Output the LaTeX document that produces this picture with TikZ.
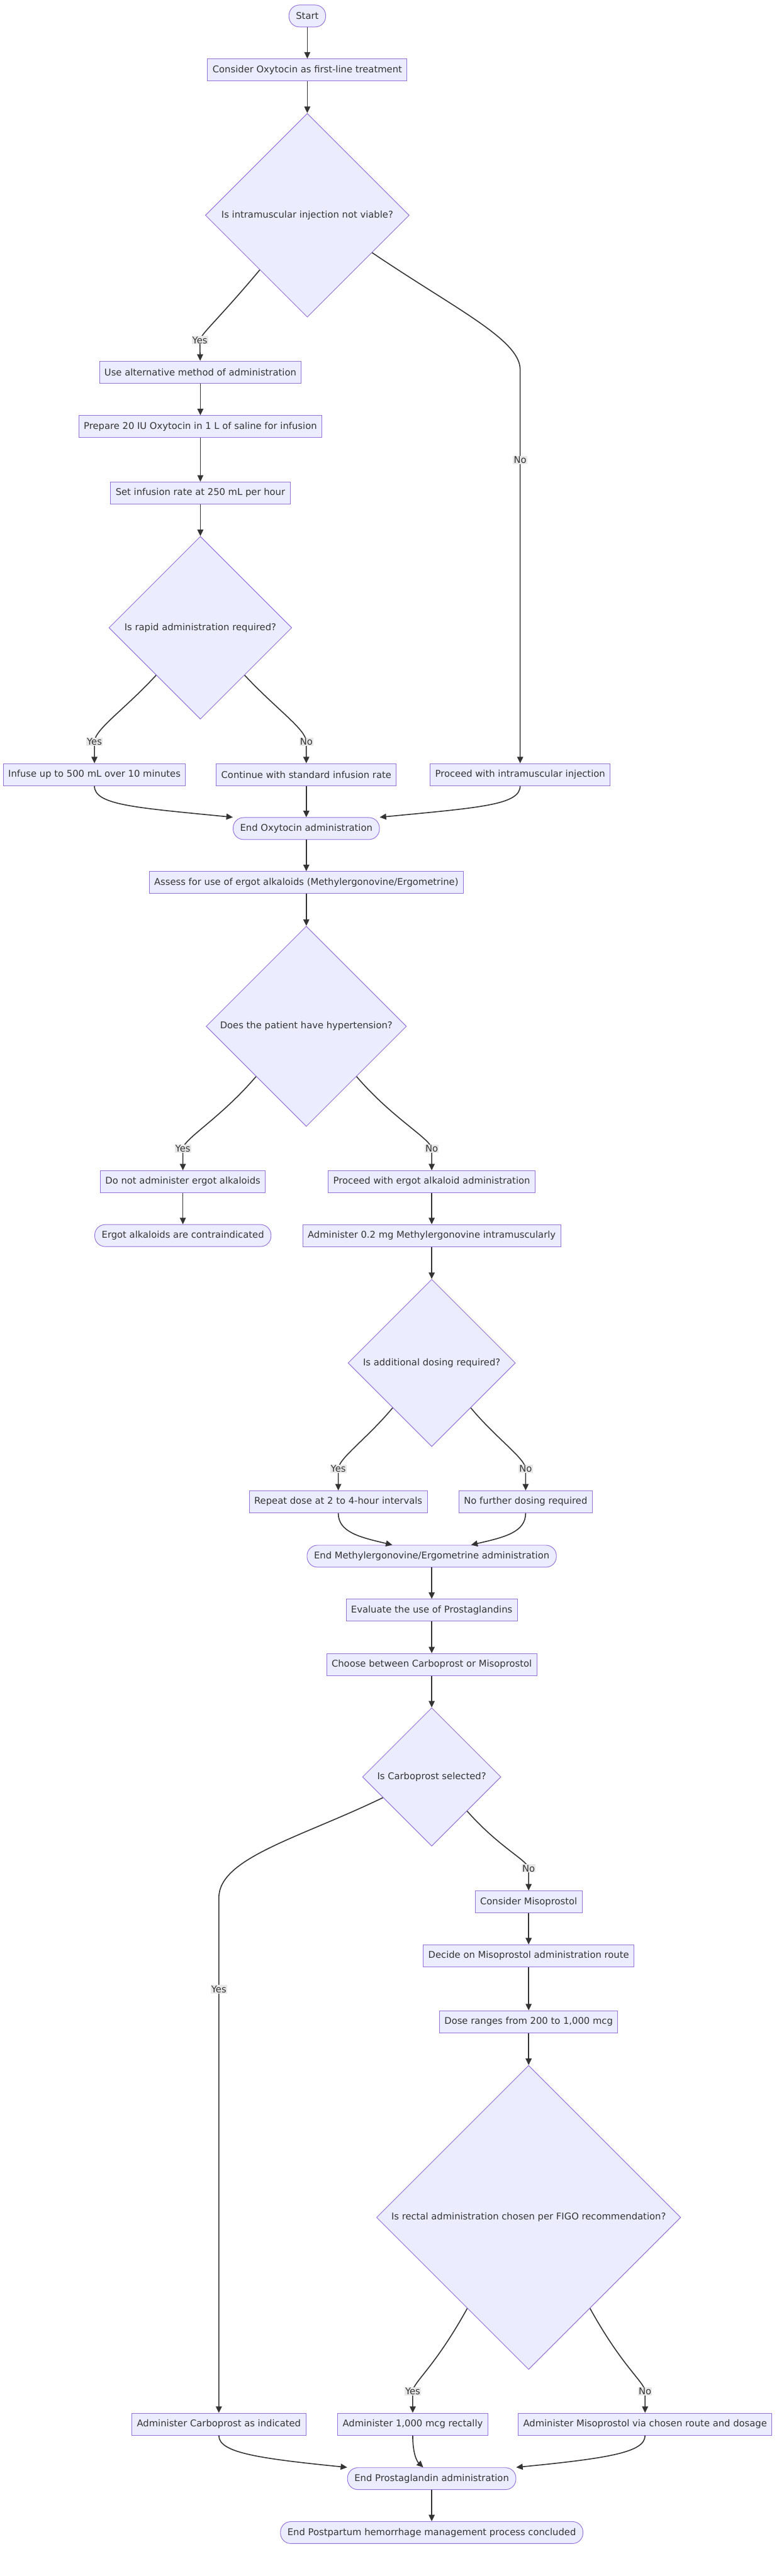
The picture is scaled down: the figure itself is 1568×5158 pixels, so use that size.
\documentclass[tikz,border=0pt]{standalone}
\usepackage{fontspec}
\setmainfont{DejaVu Sans}
\usetikzlibrary{shapes.geometric,arrows.meta}
\definecolor{boxfill}{HTML}{ECECFF}
\definecolor{boxline}{HTML}{9370DB}
\definecolor{inkgray}{HTML}{333333}
\definecolor{tagfill}{HTML}{E8E8E8}

\begin{document}
\begin{tikzpicture}[x=1pt, y=-1pt,
		every node/.style={font=\fontsize{18.6}{22}\selectfont, text=inkgray},
		proc/.style={draw=boxline, fill=boxfill, line width=1.2pt, rectangle, minimum height=44pt, inner xsep=10pt, inner ysep=0pt},
		term/.style={proc, rounded corners=21pt, inner xsep=14pt},
		decision/.style={draw=boxline, fill=boxfill, line width=1.2pt, diamond, aspect=1, inner sep=0pt},
		flow/.style={draw=inkgray, line width=2pt, -{Triangle[length=13pt,width=12pt]}},
		tag/.style={fill=tagfill, inner sep=1.5pt}]
			\fill[white] (0,0) rectangle (1568,5158);
			\useasboundingbox (0,0) rectangle (1568,5158);

			\node[term] (start) at (615,32) {Start};
			\node[proc] (firstline) at (615,140) {Consider Oxytocin as first-line treatment};
			\node[decision, minimum size=408pt, label=center:{Is intramuscular injection not viable?}] (imq) at (615,431) {};
			\node[proc] (altmethod) at (401,745) {Use alternative method of administration};
			\node[proc] (prepare) at (401,854) {Prepare 20 IU Oxytocin in 1 L of saline for infusion};
			\node[proc] (rate) at (401,987) {Set infusion rate at 250 mL per hour};
			\node[decision, minimum size=366pt, label=center:{Is rapid administration required?}] (rapidq) at (401,1257) {};
			\node[proc] (infuse) at (189,1551) {Infuse up to 500 mL over 10 minutes};
			\node[proc] (standard) at (613,1551) {Continue with standard infusion rate};
			\node[proc] (imroute) at (1041,1551) {Proceed with intramuscular injection};
			\node[term] (endoxy) at (613,1659) {End Oxytocin administration};
			\node[proc] (assess) at (613,1767) {Assess for use of ergot alkaloids (Methylergonovine/Ergometrine)};
			\node[decision, minimum size=401pt, label=center:{Does the patient have hypertension?}] (htq) at (613,2055) {};
			\node[proc] (noergot) at (366,2366) {Do not administer ergot alkaloids};
			\node[proc] (ergot) at (864,2366) {Proceed with ergot alkaloid administration};
			\node[term] (contra) at (366,2474) {Ergot alkaloids are contraindicated};
			\node[proc] (methyl) at (864,2474) {Administer 0.2 mg Methylergonovine intramuscularly};
			\node[decision, minimum size=335pt, label=center:{Is additional dosing required?}] (doseq) at (864,2729) {};
			\node[proc] (repeatdose) at (677,3007) {Repeat dose at 2 to 4-hour intervals};
			\node[proc] (nofurther) at (1052,3007) {No further dosing required};
			\node[term] (endmethyl) at (864,3116) {End Methylergonovine/Ergometrine administration};
			\node[proc] (evaluate) at (864,3224) {Evaluate the use of Prostaglandins};
			\node[proc] (choose) at (864,3333) {Choose between Carboprost or Misoprostol};
			\node[decision, minimum size=277pt, label=center:{Is Carboprost selected?}] (carboq) at (864,3558) {};
			\node[proc] (miso) at (1058,3808) {Consider Misoprostol};
			\node[proc] (route) at (1058,3916) {Decide on Misoprostol administration route};
			\node[proc] (range) at (1058,4048) {Dose ranges from 200 to 1,000 mcg};
			\node[decision, minimum size=609pt, label=center:{Is rectal administration chosen per FIGO recommendation?}] (rectalq) at (1058,4440) {};
			\node[proc] (carbo) at (438,4854) {Administer Carboprost as indicated};
			\node[proc] (rectal) at (826,4854) {Administer 1,000 mcg rectally};
			\node[proc] (misoroute) at (1291,4854) {Administer Misoprostol via chosen route and dosage};
			\node[term] (endprosta) at (864,4963) {End Prostaglandin administration};
			\node[term] (endpph) at (864,5071) {End Postpartum hemorrhage management process concluded};

			\draw[flow] (start) -- (firstline);
			\draw[flow] (firstline) -- (imq);
			\draw[flow] (imq.-131) .. controls (440,636) and (401,670) .. (400,681) node[tag] {Yes} -- (altmethod);
			\draw[flow] (imq.-30) .. controls (910,618) and (1041,680) .. (1041,740) -- (1041,921) node[tag] {No} -- (imroute);
			\draw[flow] (altmethod) -- (prepare);
			\draw[flow] (prepare) -- (rate);
			\draw[flow] (rate) -- (rapidq);
			\draw[flow] (rapidq.-133) .. controls (250,1420) and (190,1460) .. (189,1485) node[tag] {Yes} -- (infuse);
			\draw[flow] (rapidq.-47) .. controls (553,1420) and (612,1460) .. (613,1485) node[tag] {No} -- (standard);
			\draw[flow] (infuse.south) .. controls (189,1612) and (270,1617) .. (endoxy.north west);
			\draw[flow] (standard) -- (endoxy);
			\draw[flow] (imroute.south) .. controls (1041,1612) and (960,1617) .. (endoxy.north east);
			\draw[flow] (endoxy) -- (assess);
			\draw[flow] (assess) -- (htq);
			\draw[flow] (htq.-135) .. controls (440,2240) and (368,2280) .. (366,2300) node[tag] {Yes} -- (noergot);
			\draw[flow] (htq.-45) .. controls (786,2240) and (862,2280) .. (864,2300) node[tag] {No} -- (ergot);
			\draw[flow] (noergot) -- (contra);
			\draw[flow] (ergot) -- (methyl);
			\draw[flow] (methyl) -- (doseq);
			\draw[flow] (doseq.-131) .. controls (735,2880) and (678,2920) .. (677,2941) node[tag] {Yes} -- (repeatdose);
			\draw[flow] (doseq.-49) .. controls (993,2880) and (1051,2920) .. (1052,2941) node[tag] {No} -- (nofurther);
			\draw[flow] (repeatdose.south) .. controls (677,3068) and (720,3078) .. (endmethyl.164);
			\draw[flow] (nofurther.south) .. controls (1052,3068) and (1010,3078) .. (endmethyl.16);
			\draw[flow] (endmethyl) -- (evaluate);
			\draw[flow] (evaluate) -- (choose);
			\draw[flow] (choose) -- (carboq);
			\draw[flow] (carboq.-157) .. controls (600,3680) and (438,3720) .. (438,3800) -- (438,3983) node[tag] {Yes} -- (carbo);
			\draw[flow] (carboq.-44) .. controls (1000,3700) and (1056,3725) .. (1058,3741) node[tag] {No} -- (miso);
			\draw[flow] (miso) -- (route);
			\draw[flow] (route) -- (range);
			\draw[flow] (range) -- (rectalq);
			\draw[flow] (rectalq.-124) .. controls (870,4740) and (827,4770) .. (826,4788) node[tag] {Yes} -- (rectal);
			\draw[flow] (rectalq.-56) .. controls (1246,4740) and (1290,4770) .. (1291,4788) node[tag] {No} -- (misoroute);
			\draw[flow] (carbo.south) .. controls (438,4910) and (510,4922) .. (endprosta.north west);
			\draw[flow] (rectal.south) .. controls (826,4912) and (834,4928) .. (endprosta.127);
			\draw[flow] (misoroute.south) .. controls (1291,4910) and (1220,4922) .. (endprosta.north east);
			\draw[flow] (endprosta) -- (endpph);
		\end{tikzpicture}
\end{document}
